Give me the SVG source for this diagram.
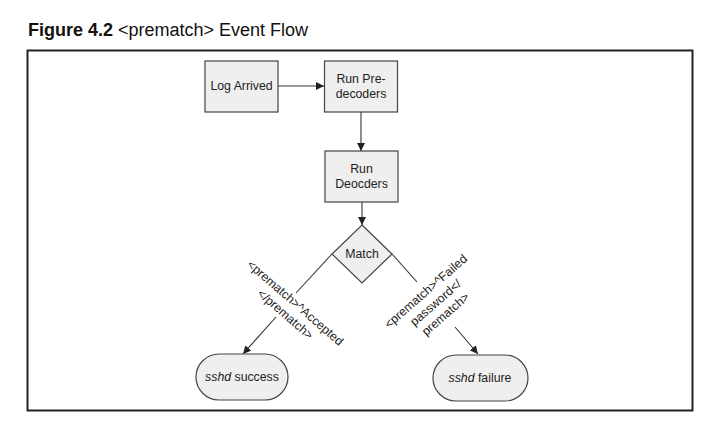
<svg xmlns="http://www.w3.org/2000/svg" width="718" height="424" viewBox="0 0 718 424">
<defs>
<style>
.box{fill:#efefef;stroke:#444;stroke-width:1.2}
.lbl{font-family:"Liberation Sans",Arial,sans-serif;font-size:12.3px;fill:#222;text-anchor:middle}
.edge{stroke:#333;stroke-width:1.1;fill:none}
.title{font-family:"Liberation Sans",Arial,sans-serif;font-size:18px;fill:#111}
</style>
<marker id="arr" viewBox="0 0 10 10" refX="10" refY="5" markerWidth="8" markerHeight="8" markerUnits="userSpaceOnUse" orient="auto">
<path d="M0,0 L10,5 L0,10 z" fill="#222"/>
</marker>
</defs>
<rect width="718" height="424" fill="#fff"/>
<text class="title" x="28" y="36"><tspan font-weight="bold">Figure 4.2</tspan> &lt;prematch&gt; Event Flow</text>
<rect x="27.5" y="50.5" width="665" height="360" fill="none" stroke="#222" stroke-width="2"/>
<g id="connectors">
<line class="edge" x1="278" y1="86" x2="324" y2="86" marker-end="url(#arr)"/>
<line class="edge" x1="361" y1="112" x2="361" y2="151" marker-end="url(#arr)"/>
<line class="edge" x1="362" y1="202" x2="362" y2="225" marker-end="url(#arr)"/>
<line class="edge" x1="332" y1="254" x2="296" y2="293"/>
<line class="edge" x1="276" y1="317" x2="243" y2="354" marker-end="url(#arr)"/>
<line class="edge" x1="392" y1="254" x2="417" y2="282"/>
<line class="edge" x1="455" y1="327" x2="478" y2="354" marker-end="url(#arr)"/>
</g>
<g id="log-arrived">
<rect class="box" x="205" y="61" width="73" height="51"/>
<text class="lbl" x="241.5" y="90">Log Arrived</text>
</g>
<g id="run-predecoders">
<rect class="box" x="324.5" y="61" width="73" height="51"/>
<text class="lbl" x="361" y="83">Run Pre-</text>
<text class="lbl" x="361" y="98">decoders</text>
</g>
<g id="run-deocders">
<rect class="box" x="325" y="151" width="73" height="51"/>
<text class="lbl" x="361.5" y="173">Run</text>
<text class="lbl" x="361.5" y="188">Deocders</text>
</g>
<g id="match">
<polygon class="box" points="362,225 392,254 362,283 332,254"/>
<text class="lbl" x="362" y="258">Match</text>
</g>
<g id="sshd-success">
<rect class="box" x="196" y="354" width="92" height="46" rx="23" ry="23"/>
<text class="lbl" x="242" y="381"><tspan font-style="italic">sshd</tspan> success</text>
</g>
<g id="sshd-failure">
<rect class="box" x="433" y="355" width="95" height="46" rx="23" ry="23"/>
<text class="lbl" x="480" y="382"><tspan font-style="italic">sshd</tspan> failure</text>
</g>
<g id="edge-labels">
<text class="lbl" transform="translate(292.5,306) rotate(41)"><tspan x="0" y="0">&lt;prematch&gt;^Accepted</tspan><tspan x="0" y="15">&lt;/prematch&gt;</tspan></text>
<text class="lbl" transform="translate(428.5,294.5) rotate(-41)"><tspan x="0" y="0">&lt;prematch&gt;^Failed</tspan><tspan x="0" y="15">password&lt;/</tspan><tspan x="0" y="30">prematch&gt;</tspan></text>
</g>
</svg>
